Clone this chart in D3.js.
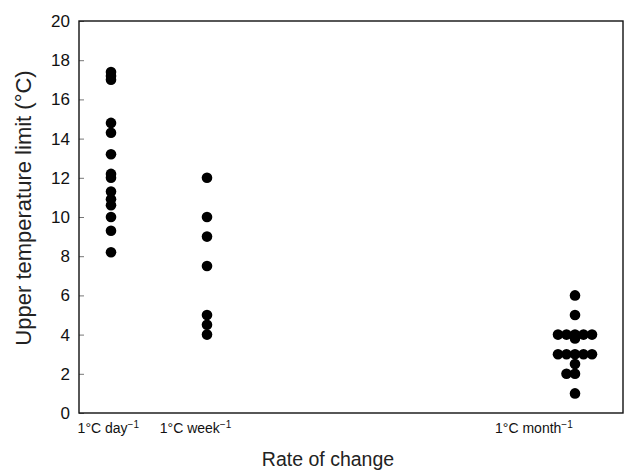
<!DOCTYPE html>
<html>
<head>
<meta charset="utf-8">
<script src="https://cdn.jsdelivr.net/npm/d3@7"></script>
<style>
  body { margin: 0; background: #fff; }
  text { font-family: "Liberation Sans", Arial, sans-serif; }
</style>
</head>
<body>
<svg id="chart" width="629" height="474"></svg>
<script>
// rate of change, expressed as days per 1 degree C
var rates = [1, 7, 30];
var rateNames = ["day", "week", "month"];
// where the category names sit on the day axis
var tickPos = [0.8, 6.25, 27.4];

var dayLimits = [17.4, 17.2, 17.0, 14.8, 14.3, 13.2, 12.2, 12.0, 11.3, 10.9, 10.6, 10.0, 9.3, 8.2];
var weekLimits = [12.0, 10.0, 9.0, 7.5, 5.0, 4.5, 4.0];
var monthLimits = [6, 5, 4, 4, 4, 4, 4, 3.8, 3, 3, 3, 3, 3, 2.5, 2, 2, 1];

var yTicks = d3.range(0, 21, 2);

var margin = {top: 21, right: 6, bottom: 61, left: 79};
var width = 629 - margin.left - margin.right;
var height = 474 - margin.top - margin.bottom;

var svg = d3.select("#chart");
var g = svg.append("g")
  .attr("transform", "translate(" + margin.left + "," + margin.top + ")");

var x = d3.scaleLinear().domain([-1, 33]).range([0, width]);
var y = d3.scaleLinear().domain([0, 20]).range([height, 0]);

// spread identical values sideways: 0, -1, +1, -2, +2 ...
var step = 8.5;
var points = [];
[dayLimits, weekLimits, monthLimits].forEach(function(vals, i) {
  var seen = {};
  vals.forEach(function(v) {
    var k = seen[v] || 0;
    seen[v] = k + 1;
    var off = k === 0 ? 0 : (k % 2 === 1 ? -Math.ceil(k / 2) : k / 2);
    points.push({rate: rates[i], value: v, off: off});
  });
});

// y axis, ticks inside
var yAxis = d3.axisLeft(y).tickValues(yTicks).tickSizeInner(-5).tickSizeOuter(0).tickPadding(9);
var ya = g.append("g").call(yAxis);
ya.select(".domain").remove();
ya.selectAll(".tick line").attr("stroke", "#777").attr("stroke-width", 1);
ya.selectAll(".tick text").attr("font-size", 17).attr("fill", "#111")
  .attr("font-family", "Liberation Sans, Arial, sans-serif");

// x axis labels only
var xAxis = d3.axisBottom(x).tickValues(tickPos).tickSize(0).tickPadding(10)
  .tickFormat(function(d, i) { return rateNames[i]; });
var xa = g.append("g").attr("transform", "translate(0," + height + ")").call(xAxis);
xa.select(".domain").remove();
xa.selectAll(".tick text")
  .attr("font-size", 14).attr("fill", "#111")
  .attr("font-family", "Liberation Sans, Arial, sans-serif")
  .each(function(d, i) {
    var t = d3.select(this);
    t.text(null);
    t.append("tspan").text("1°C " + rateNames[i]);
    t.append("tspan").attr("font-size", 10).attr("dy", -5).text("\u22121");
  });

// frame
g.append("rect")
  .attr("x", 0).attr("y", 0)
  .attr("width", width).attr("height", height)
  .attr("fill", "none").attr("stroke", "#111").attr("stroke-width", 1.4);

g.selectAll("circle")
  .data(points)
  .enter()
  .append("circle")
  .attr("cx", function(d) { return x(d.rate) + d.off * step; })
  .attr("cy", function(d) { return y(d.value); })
  .attr("r", 5.3)
  .attr("fill", "#000");

svg.append("text")
  .attr("x", 328).attr("y", 466)
  .attr("text-anchor", "middle")
  .attr("font-size", 19.5).attr("fill", "#222")
  .text("Rate of change");

svg.append("text")
  .attr("transform", "translate(31,208) rotate(-90)")
  .attr("text-anchor", "middle")
  .attr("font-size", 22).attr("fill", "#222")
  .text("Upper temperature limit (°C)");
</script>
</body>
</html>
